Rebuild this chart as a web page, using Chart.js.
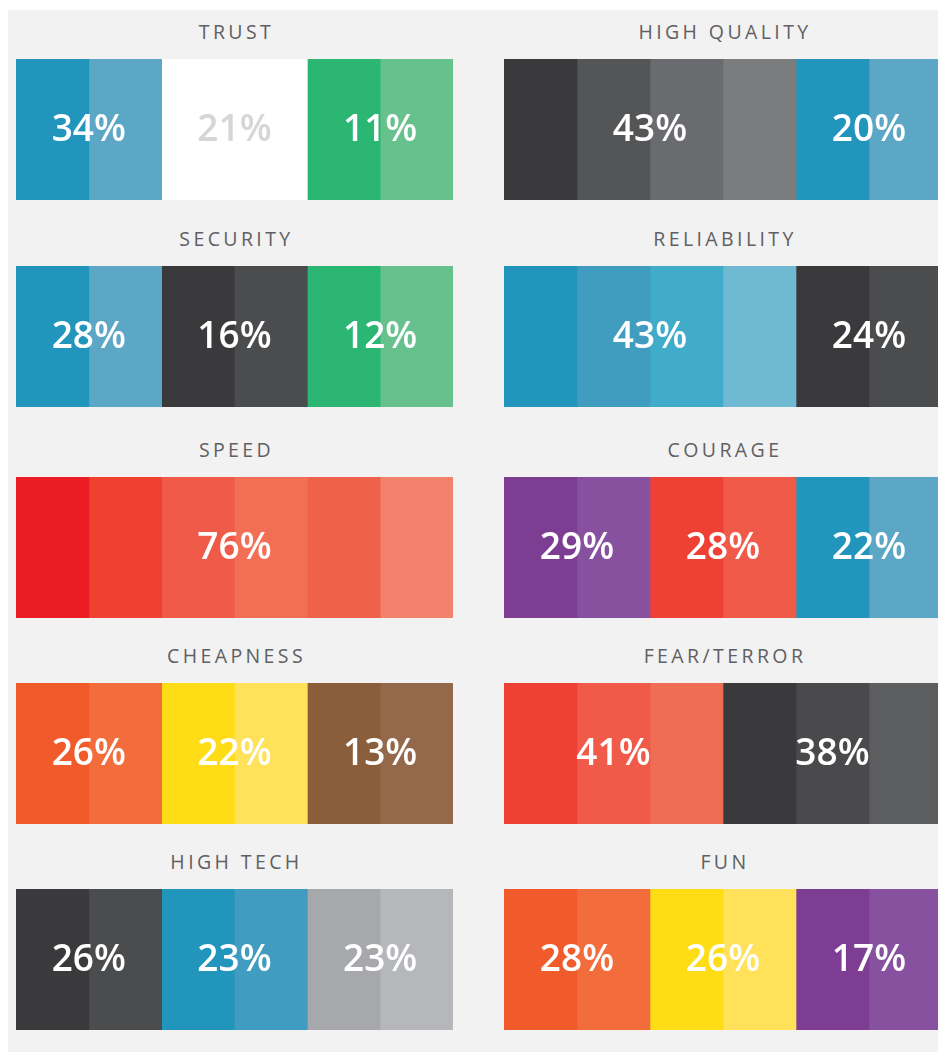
<!DOCTYPE html>
<html lang="en">
<head>
  <meta charset="UTF-8">
  <title>Brand colour associations</title>
  <script src="https://cdn.jsdelivr.net/npm/chart.js"></script>
  <style>
    html, body { margin: 0; padding: 0; background: #ffffff; }
    body { width: 938px; height: 1052px; overflow: hidden; position: relative; }
    #panel { position: absolute; left: 8px; top: 10px; width: 940px; height: 1050px; background: #f2f2f2; }
    .title {
      position: absolute; width: 438px; text-align: center;
      font-family: "Open Sans", sans-serif; font-size: 19.5px; letter-spacing: 3.4px;
      color: #5f6063; line-height: 22px;
    }
    canvas { position: absolute; }
  </style>
</head>
<body>
  <div id="panel"></div>

  <script>
    // words in reading order: left column, right column, row by row
    const titles = ['TRUST', 'HIGH QUALITY', 'SECURITY', 'RELIABILITY', 'SPEED',
                    'COURAGE', 'CHEAPNESS', 'FEAR/TERROR', 'HIGH TECH', 'FUN'];
    // percentages for each colour group
    const percents = [[34, 21, 11], [43, 20], [28, 16, 12], [43, 24], [76],
                      [29, 28, 22], [26, 22, 13], [41, 38], [26, 23, 23], [28, 26, 17]];
    // how many of the 6 swatches each group covers
    const spans = [[2, 2, 2], [4, 2], [2, 2, 2], [4, 2], [6],
                   [2, 2, 2], [2, 2, 2], [3, 3], [2, 2, 2], [2, 2, 2]];

    // swatch colours
    const colors = [
      ['#2295bd', '#5ca6c6', '#ffffff', '#ffffff', '#2cb673', '#67c18d'],
      ['#3a3a3c', '#545557', '#6a6b6e', '#7b7c7e', '#2295bd', '#5ca6c6'],
      ['#2295bd', '#5ca6c6', '#3a3a3c', '#4b4c4e', '#2cb673', '#67c18d'],
      ['#2295bd', '#409dc0', '#40acca', '#70b9d3', '#3a3a3c', '#4b4c4e'],
      ['#ec1c24', '#ef4030', '#f05a48', '#f26f55', '#f0614c', '#f2826b'],
      ['#7d3d93', '#87519f', '#ee4034', '#f05a48', '#2295bd', '#5ca6c6'],
      ['#f15a2b', '#f36d3c', '#fedd17', '#ffe15a', '#8a5d3b', '#94694b'],
      ['#ee4034', '#f05a48', '#ef6c55', '#3a3a3c', '#4a4a4c', '#5c5d5f'],
      ['#3a3a3c', '#4b4c4e', '#2295bd', '#409cc0', '#a7a8ab', '#b6b7ba'],
      ['#f15a2b', '#f36d3c', '#fedd17', '#ffe15a', '#7d3d93', '#87519f']
    ];

    const colLeft = [16, 504];
    const barTops = [59, 266, 477, 683, 889];
    const barW = 437, barH = 141;

    const pctLabels = {
      id: 'pctLabels',
      afterDatasetsDraw(chart, args, opts) {
        const ctx = chart.ctx;
        const x = chart.scales.x;
        const area = chart.chartArea;
        const midY = (area.top + area.bottom) / 2;
        ctx.save();
        ctx.font = '600 37px "Open Sans", sans-serif';
        ctx.textAlign = 'center';
        ctx.textBaseline = 'alphabetic';
        let start = 0;
        opts.spans.forEach((n, g) => {
          const cx = (x.getPixelForValue(start) + x.getPixelForValue(start + n)) / 2;
          ctx.fillStyle = opts.colors[start] === '#ffffff' ? '#d6d6d6' : '#ffffff';
          ctx.fillText(opts.percents[g] + '%', cx, midY + 11);
          start += n;
        });
        ctx.restore();
      }
    };

    titles.forEach((t, i) => {
      const col = i % 2, row = Math.floor(i / 2);
      const left = colLeft[col], top = barTops[row];
      const w = col === 0 ? barW : barW + 1;

      const title = document.createElement('div');
      title.className = 'title';
      title.textContent = t;
      title.style.width = w + 'px';
      title.style.left = (left + 2) + 'px';
      title.style.top = (top - 38) + 'px';
      document.body.appendChild(title);

      const canvas = document.createElement('canvas');
      canvas.width = w;
      canvas.height = barH;
      canvas.style.left = left + 'px';
      canvas.style.top = top + 'px';
      document.body.appendChild(canvas);

      // one swatch per dataset, each one unit wide
      const datasets = [];
      spans[i].forEach(n => {
        for (let k = 0; k < n; k++) {
          datasets.push({ data: [1], backgroundColor: colors[i][datasets.length], borderWidth: 0 });
        }
      });

      new Chart(canvas.getContext('2d'), {
        type: 'bar',
        data: { labels: [t], datasets: datasets },
        options: {
          indexAxis: 'y',
          responsive: false,
          animation: false,
          devicePixelRatio: 1,
          barPercentage: 1,
          categoryPercentage: 1,
          layout: { padding: 0 },
          scales: {
            x: { stacked: true, min: 0, max: 6, display: false },
            y: { stacked: true, display: false }
          },
          plugins: {
            legend: { display: false },
            tooltip: { enabled: false },
            pctLabels: { spans: spans[i], percents: percents[i], colors: colors[i] }
          }
        },
        plugins: [pctLabels]
      });
    });
  </script>
</body>
</html>
